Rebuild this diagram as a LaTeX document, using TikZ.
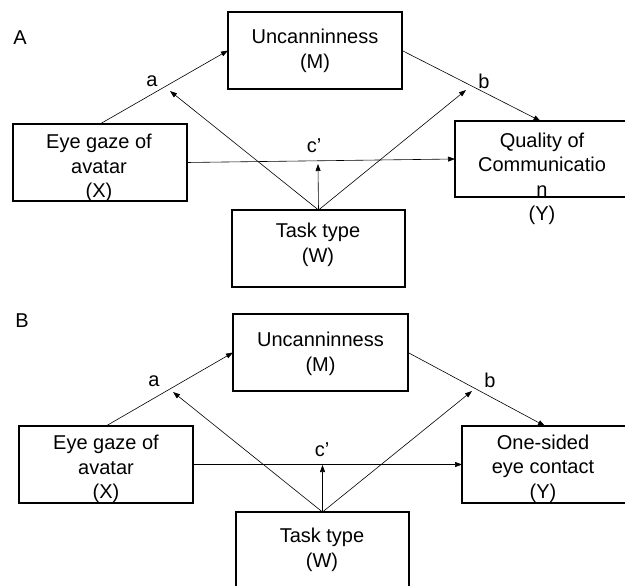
\documentclass[tikz,border=0pt]{standalone}
\usepackage{fontspec}
\setmainfont{Liberation Sans}
\usetikzlibrary{arrows.meta}
\begin{document}
\begin{tikzpicture}[x=1pt,y=-1pt,
  box/.style={draw=black, line width=1.1pt, inner sep=0pt, outer sep=0pt, rectangle},
  txt/.style={inner sep=0pt, align=center, font=\fontsize{20}{24.5}\selectfont},
  lbl/.style={inner sep=0pt, anchor=base, font=\fontsize{20}{24.5}\selectfont},
  conn/.style={draw=black, line width=0.6pt, -{Triangle[length=7pt,width=5pt]}}]
\useasboundingbox (0,0) rectangle (625,586);
\clip (0,0) rectangle (625,586);
\fill[white] (0,0) rectangle (625,586);

% ---------- Panel A ----------
\node[lbl] (labA) at (20,45) {A};
\node[box, minimum width=174pt, minimum height=77pt] (mA) at (315,50.5) {};
\node[box, minimum width=174pt, minimum height=77pt] (xA) at (100,162.5) {};
\node[box, minimum width=173pt, minimum height=77pt] (wA) at (318.5,248.5) {};
\node[box, minimum width=171pt, minimum height=76pt] (yA) at (540.5,159) {};

\node[txt] (mAt) at (315,51) {Uncanninness\\(M)};
\node[txt] (xAt) at (99,168) {Eye gaze of\\avatar\\(X)};
\node[txt] (wAt) at (318,245) {Task type\\(W)};
\node[txt] (yAt) at (542,179) {Quality of\\Communicatio\\n\\(Y)};

\coordinate (aA) at (170,91);
\coordinate (bA) at (466,90);
\coordinate (cA) at (318,164);

\draw[conn] (xA.north) -- (mA.west);
\draw[conn] (mA.east) -- (yA.north);
\draw[conn] (xA.east) -- (yA.west);
\draw[conn] (wA.north) -- (aA);
\draw[conn] (wA.north) -- (bA);
\draw[conn] (wA.north) -- (cA);

\node[lbl] (laA) at (152,87) {a};
\node[lbl] (lbA) at (484,89) {b};
\node[lbl] (lcA) at (314,153) {c’};

% ---------- Panel B ----------
\node[lbl] (labB) at (22,327) {B};
\node[box, minimum width=175pt, minimum height=77pt] (mB) at (320.5,352.5) {};
\node[box, minimum width=174pt, minimum height=77pt] (xB) at (106,464.5) {};
\node[box, minimum width=173pt, minimum height=90pt] (wB) at (322.5,557) {};
\node[box, minimum width=166pt, minimum height=77pt] (yB) at (545,464.5) {};

\node[txt] (mBt) at (320.5,354) {Uncanninness\\(M)};
\node[txt] (xBt) at (106,469) {Eye gaze of\\avatar\\(X)};
\node[txt] (wBt) at (322,550) {Task type\\(W)};
\node[txt] (yBt) at (543,468.5) {One-sided\\eye contact\\(Y)};

\coordinate (aB) at (173,392);
\coordinate (bB) at (472,391);
\coordinate (cB) at (322.5,465);

\draw[conn] (xB.north) -- (mB.west);
\draw[conn] (mB.east) -- (yB.north);
\draw[conn] (xB.east) -- (yB.west);
\draw[conn] (wB.north) -- (aB);
\draw[conn] (wB.north) -- (bB);
\draw[conn] (wB.north) -- (cB);

\node[lbl] (laB) at (154,386) {a};
\node[lbl] (lbB) at (490,387) {b};
\node[lbl] (lcB) at (322,456) {c’};
\end{tikzpicture}
\end{document}
